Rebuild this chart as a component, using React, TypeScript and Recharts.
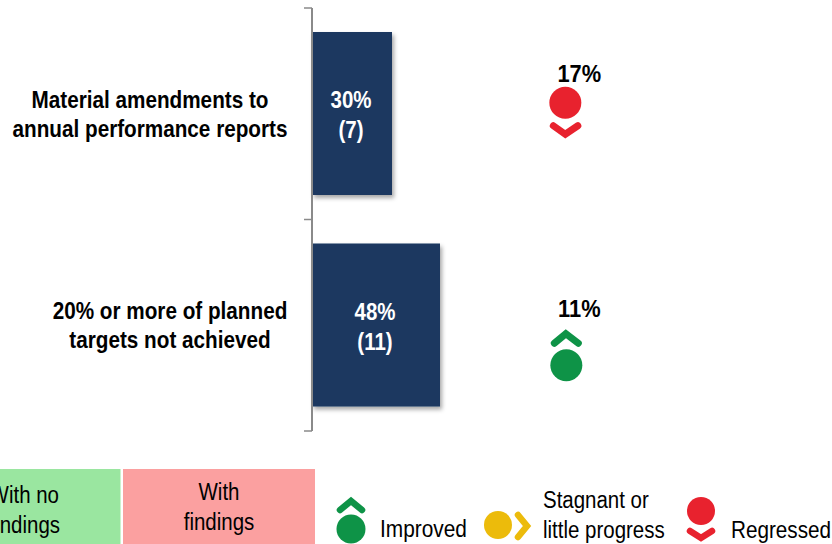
import React from "react";
import { BarChart, Bar, XAxis, YAxis, LabelList, ReferenceDot } from "recharts";

const categories = ["Material amendments to|annual performance reports", "20% or more of planned|targets not achieved"];
const shares = [30, 48];
const counts = [7, 11];
const changes = ["17%", "11%"];
const trends = ["down", "up"];

const rows = categories.map((name, i) => ({ name, share: shares[i], count: counts[i] }));

const FONT = "'Liberation Sans', Arial, sans-serif";
const NAVY = "#1a3860";
const GREEN = "#0e9347";
const RED = "#e8222e";
const YELLOW = "#ecbb0b";
const AXIS = "#8a8a8a";
const TOP = 8;
const BOTTOM = 113;
const BAND = (544 - TOP - BOTTOM) / categories.length;
const TREND_COLUMN = 95;
const LABEL_CENTRES = [150, 170];

type TxtProps = { x: number; y: number; s: string; bold?: boolean; fill?: string; k?: number; anchor?: "start" | "middle" | "end" };

// Arial-style text squeezed horizontally, as a narrow slide font would look.
function Txt({ x, y, s, bold, fill = "#000", k = 0.89, anchor = "middle" }: TxtProps) {
  return (
    <text
      transform={`translate(${x} ${y}) scale(${k} 1)`}
      textAnchor={anchor}
      dominantBaseline="central"
      fontFamily={FONT}
      fontSize={23}
      fontWeight={bold ? 700 : 400}
      fill={fill}
    >
      {s}
    </text>
  );
}

function Chevron({ points, color, width = 7 }: { points: string; color: string; width?: number }) {
  return <polyline points={points} fill="none" stroke={color} strokeWidth={width} strokeLinecap="round" strokeLinejoin="miter" />;
}

function CategoryTick(props: any) {
  const { x, y, payload, index } = props;
  const lines = String(payload.value).split("|");
  const last = index === categories.length - 1;
  const top = y - BAND / 2;
  const axisX = x + 8;
  return (
    <g>
      <line x1={axisX - 8} x2={axisX} y1={top} y2={top} stroke={AXIS} strokeWidth={1.5} />
      {last && <line x1={axisX - 8} x2={axisX} y1={top + BAND} y2={top + BAND} stroke={AXIS} strokeWidth={1.5} />}
      <Txt x={LABEL_CENTRES[index]} y={y - 14} s={lines[0]} bold k={0.9} />
      <Txt x={LABEL_CENTRES[index]} y={y + 15} s={lines[1]} bold k={0.9} />
    </g>
  );
}

function BarCaption(props: any) {
  const { x, y, width, height, index } = props;
  const cx = x + width / 2 - 1;
  const cy = y + height / 2;
  return (
    <g>
      <Txt x={cx} y={cy - 13} s={`${shares[index]}%`} bold fill="#fff" />
      <Txt x={cx} y={cy + 17} s={`(${counts[index]})`} bold fill="#fff" />
    </g>
  );
}

function TrendMark(props: any) {
  const { cx, cy, index } = props;
  const dir = trends[index];
  return (
    <g transform={`translate(${cx} ${cy})`}>
      <Txt x={14} y={dir === "down" ? -39 : -16} s={changes[index]} bold k={0.95} />
      {dir === "down" ? (
        <g>
          <circle cx={0} cy={-11} r={16} fill={RED} />
          <Chevron points="-12,12 0,20.5 12.5,12" color={RED} />
        </g>
      ) : (
        <g>
          <Chevron points="-11,18 0.5,8.5 13,18" color={GREEN} />
          <circle cx={1} cy={40} r={16} fill={GREEN} />
        </g>
      )}
    </g>
  );
}

function Key() {
  return (
    <svg width={832} height={544} style={{ position: "absolute", left: 0, top: 0 }}>
      <rect x={-2} y={469} width={122.5} height={75} fill="#9ae6a0" />
      <rect x={123} y={469} width={192} height={75} fill="#fba0a0" />
      <Txt x={59} y={495} s="With no" anchor="end" />
      <Txt x={60} y={525} s="findings" anchor="end" />
      <Txt x={219} y={492} s="With" />
      <Txt x={219} y={522} s="findings" />

      <Chevron points="340,510 351,501 362,510" color={GREEN} width={6.5} />
      <circle cx={351} cy={529} r={14.5} fill={GREEN} />
      <Txt x={380} y={529} s="Improved" anchor="start" k={0.907} />

      <circle cx={498} cy={525} r={14} fill={YELLOW} />
      <Chevron points="518,515 527,526 518,537" color={YELLOW} width={6.5} />
      <Txt x={543} y={500} s="Stagnant or" anchor="start" />
      <Txt x={543} y={530} s="little progress" anchor="start" />

      <circle cx={701} cy={511} r={14} fill={RED} />
      <Chevron points="690,531 701,538 712,531" color={RED} width={6.5} />
      <Txt x={731} y={530} s="Regressed" anchor="start" k={0.9} />
    </svg>
  );
}

export default function App() {
  return (
    <div style={{ position: "relative", width: 832, height: 544, background: "#fff" }}>
      <style>{"body{margin:0}"}</style>
      <BarChart
        layout="vertical"
        width={832}
        height={544}
        data={rows}
        margin={{ top: TOP, right: 0, bottom: BOTTOM, left: 0 }}
        barCategoryGap={0}
        style={{ position: "absolute", left: 0, top: 0 }}
      >
        <defs>
          <filter id="barShadow" x="-10%" y="-10%" width="125%" height="125%">
            <feDropShadow dx={2} dy={3} stdDeviation={2} floodColor="#000" floodOpacity={0.35} />
          </filter>
        </defs>
        <XAxis type="number" domain={[0, 195]} hide />
        <YAxis
          type="category"
          dataKey="name"
          width={312}
          interval={0}
          axisLine={{ stroke: AXIS, strokeWidth: 2 }}
          tickLine={false}
          tick={<CategoryTick />}
        />
        <Bar dataKey="share" barSize={163} fill={NAVY} isAnimationActive={false} style={{ filter: "url(#barShadow)" }}>
          <LabelList dataKey="share" content={<BarCaption />} />
        </Bar>
        {categories.map((name, i) => (
          <ReferenceDot key={name} x={TREND_COLUMN} y={name} ifOverflow="visible" shape={(p: any) => <TrendMark {...p} index={i} />} />
        ))}
      </BarChart>
      <Key />
    </div>
  );
}
